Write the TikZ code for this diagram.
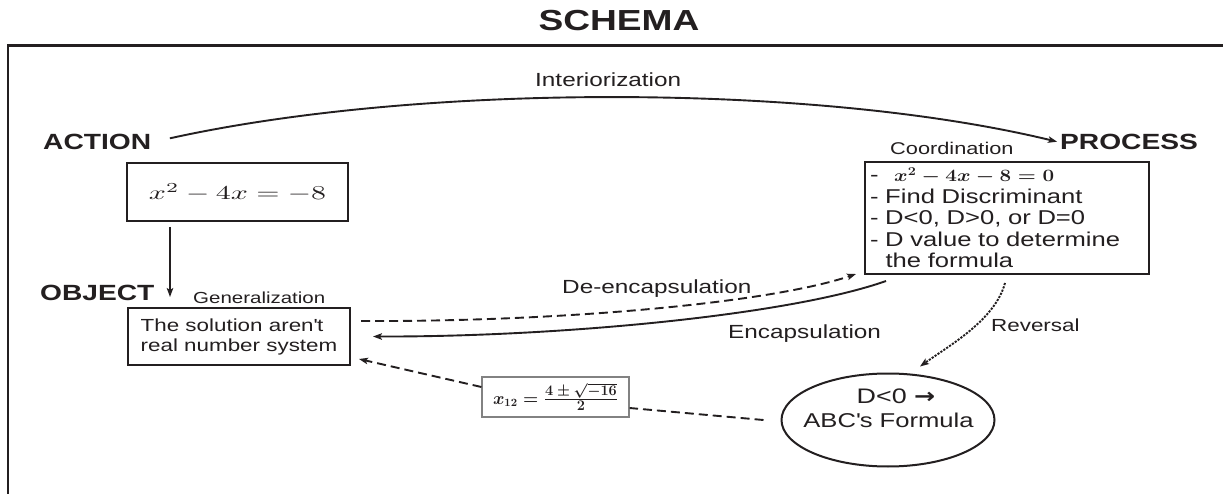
\documentclass[tikz,border=0pt]{standalone}
\usepackage{amsmath}
\usepackage{graphicx}
\usepackage{fontspec}
\setmainfont{Liberation Sans}[FakeStretch=1.28]
\newfontfamily\arrowf{DejaVu Sans}[FakeStretch=1.2]
\usetikzlibrary{arrows.meta,shapes.geometric}
\definecolor{ink}{RGB}{35,31,32}
\definecolor{boxgray}{RGB}{130,130,130}
\newcommand{\fracpart}[1]{\mbox{\fontsize{13.5}{15}\selectfont\boldmath$#1$}}
\begin{document}
\begin{tikzpicture}[x=1pt,y=-1pt,
  lbl/.style={inner sep=0pt, text=ink, anchor=base west},
  heading/.style={lbl, font=\bfseries\fontsize{22}{26}\selectfont},
  small/.style={lbl, font=\fontsize{16}{19}\selectfont},
  mid/.style={lbl, font=\fontsize{19}{22}\selectfont},
  boxd/.style={draw=ink, line width=2pt, inner sep=0pt, text=ink},
  conn/.style={draw=ink, line width=1.9pt},
  tip/.style={-{Stealth[length=9pt,width=6.5pt,inset=2pt]}},
  dashline/.style={dash pattern=on 9pt off 5pt},
  dotline/.style={dash pattern=on 2.2pt off 1.3pt, line width=1.9pt}]
\useasboundingbox (0,0) rectangle (1223,494);
\fill[white] (0,0) rectangle (1223,494);

% title and frame
\node[lbl, anchor=base, font=\bfseries\fontsize{29}{34}\selectfont] (title) at (619,31) {SCHEMA};
\draw[draw=ink, line width=2.2pt] (1223,45.5) -- (8,45.5) -- (8,494);

% stage headings
\node[heading] (action) at (43,150) {ACTION};
\node[heading] (process) at (1060,150) {PROCESS};
\node[heading] (object) at (40,300) {OBJECT};

% boxes
\node[boxd, minimum width=221pt, minimum height=58pt] (eq) at (237.5,192)
  {\resizebox{177pt}{16pt}{$x^2-4x=-8$}};

\node[boxd, minimum width=284pt, minimum height=112pt, text width=274pt,
      inner xsep=5pt, align=left, font=\fontsize{20}{21.5}\selectfont] (coord) at (1007,218)
  {- \hspace{9pt}\resizebox{160pt}{14pt}{\boldmath$x^2-4x-8=0$}\\
   - Find Discriminant\\
   - D<0, D>0, or D=0\\
   - D value to determine\\
   \hspace*{15.6pt}the formula};

\node[boxd, minimum width=222pt, minimum height=57pt, align=left,
      font=\fontsize{17.5}{20}\selectfont] (sol) at (239,336.5)
  {The solution aren\textquotesingle t\\real number system};

\node[boxd, ellipse, minimum width=213pt, minimum height=93pt] (abc) at (888,420) {};
\node[lbl, anchor=base, font=\fontsize{21}{24}\selectfont] (abcA) at (896,403)
  {D<0 {\arrowf\bfseries →}};
\node[lbl, anchor=base, font=\fontsize{20}{24}\selectfont] (abcB) at (888.5,427)
  {ABC\textquotesingle s Formula};

\node[draw=boxgray, line width=1.2pt, minimum width=147pt, minimum height=40pt,
      inner sep=0pt, text=ink] (fx) at (555.5,397)
  {\resizebox{125pt}{21pt}{\fontsize{16}{18}\selectfont\boldmath$x_{12}=\frac{\fracpart{4\pm\sqrt{-16}}}{\fracpart{2}}$}};

% labels
\node[mid] (lint) at (535,87) {Interiorization};
\node[small] (lgen) at (193,303) {Generalization};
\node[lbl, font=\fontsize{17}{20}\selectfont] (lcoord) at (890,155) {Coordination};
\node[mid] (ldeenc) at (562,294) {De-encapsulation};
\node[mid] (lenc) at (728,338) {Encapsulation};
\node[lbl, font=\fontsize{17.5}{20}\selectfont] (lrev) at (991,331) {Reversal};

% connectors
\draw[conn, tip, shorten <=19pt, shorten >=3pt]
  (action.east) .. controls (420,83) and (815,83) .. (process.west);

\coordinate (objtip) at (170,297);
\draw[conn, tip, shorten <=5pt] (eq.south -| objtip) -- (objtip);

\draw[conn, dashline, tip]
  ([xshift=10pt,yshift=15.5pt]sol.east) .. controls (560,322) and (770,303) ..
  ([xshift=-8pt,yshift=1pt]coord.south west);

\draw[conn, tip]
  ([xshift=22pt,yshift=-6pt]coord.south west) .. controls (790,315) and (560,337) ..
  ([xshift=22pt]sol.east);

\draw[conn, dotline, tip]
  ([xshift=-2pt,yshift=-8pt]coord.south) .. controls (995,320) and (950,345) ..
  ([xshift=32pt,yshift=6pt]abc.north);

\draw[conn, dashline] ([xshift=-17pt]abc.west) -- ([yshift=-11pt]fx.east);
\draw[conn, dashline, tip] ([yshift=10pt]fx.west) -- ([xshift=8pt,yshift=7pt]sol.south east);
\end{tikzpicture}
\end{document}
